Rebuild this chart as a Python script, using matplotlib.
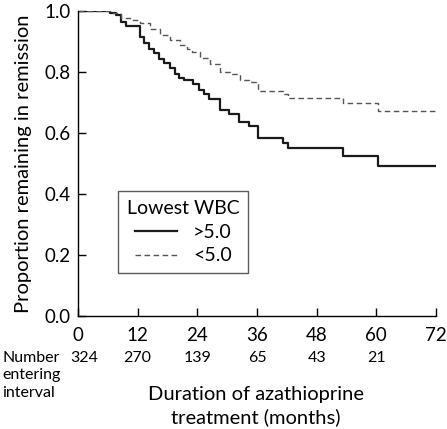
import matplotlib
matplotlib.use("Agg")
import matplotlib.pyplot as plt

plt.rcParams['font.family'] = ['Lato', 'DejaVu Sans']

# Kaplan-Meier steps (month of event, survival after event)
high_t = [0, 6.4, 7.6, 8.6, 9.6, 12.5, 13.3, 14.3, 15.3, 16.3, 17.3, 18.5, 19.5,
          20.3, 21.3, 23.1, 24.3, 25.3, 26.4, 28.5, 30.3, 32.4, 34.3, 36.2,
          41.3, 42.3, 53.3, 60.3, 72]
high_s = [1.0, 0.993, 0.987, 0.965, 0.951, 0.915, 0.896, 0.874, 0.862, 0.842,
          0.829, 0.812, 0.793, 0.779, 0.774, 0.761, 0.741, 0.728, 0.711, 0.675,
          0.662, 0.637, 0.623, 0.585, 0.568, 0.552, 0.526, 0.492, 0.492]

low_t = [0, 6.5, 8.6, 10.5, 12.5, 14.5, 16.5, 18.5, 20.5, 22.0, 23.0, 24.5, 26.5,
         28.6, 30.6, 32.6, 34.3, 36.2, 41.3, 42.3, 53.3, 60.3, 72]
low_s = [1.0, 0.995, 0.978, 0.972, 0.962, 0.940, 0.921, 0.905, 0.889, 0.875,
         0.866, 0.846, 0.826, 0.799, 0.792, 0.774, 0.766, 0.738, 0.727, 0.714,
         0.697, 0.672, 0.672]

x_ticks = [0, 12, 24, 36, 48, 60, 72]
y_ticks = [0.0, 0.2, 0.4, 0.6, 0.8, 1.0]
at_risk_t = [1.3, 12, 24, 36, 48, 60]
at_risk_n = ["324", "270", "139", "65", "43", "21"]

fig = plt.figure(figsize=(4.47, 4.29), dpi=100)
ax = fig.add_axes([78/447, 1-316/429, (436-78)/447, (316-11)/429])

ax.step(high_t, high_s, where='post', color='#1a1a1a', lw=1.6, label='>5.0')
ax.step(low_t, low_s, where='post', color='#555555', lw=1.0,
        linestyle=(0, (4, 2.5)), label='<5.0')

ax.set_xlim(0, 72)
ax.set_ylim(0, 1.0)
ax.set_xticks(x_ticks)
ax.set_yticks(y_ticks)
ax.set_yticklabels([f"{v:.1f}" for v in y_ticks])
for s in ['top', 'right']:
    ax.spines[s].set_visible(False)
for s in ['left', 'bottom']:
    ax.spines[s].set_linewidth(1.0)
ax.tick_params(direction='in', length=6, width=1, labelsize=13.5, pad=5)
ax.tick_params(axis='x', pad=8)

ax.set_ylabel("Proportion remaining in remission", fontsize=14.5, labelpad=9)

leg = ax.legend(title="Lowest WBC", loc='upper left', bbox_to_anchor=(0.112, 0.41),
                borderaxespad=0, fontsize=14, title_fontsize=14, frameon=True,
                fancybox=False, edgecolor='#333333', handlelength=2.2,
                borderpad=0.45, labelspacing=0.35, handletextpad=0.8)
leg.get_frame().set_linewidth(1.0)

# Number entering interval
for t, n in zip(at_risk_t, at_risk_n):
    ax.text(t, -(358-316)/305, n, transform=ax.get_xaxis_transform(), ha='center',
            va='center', fontsize=11.5, clip_on=False)
fig.text(2/447, 1-351/429, "Number\nentering\ninterval", ha='left', va='top',
         fontsize=11.5, linespacing=1.3)
fig.text(256/447, 1-406/429, "Duration of azathioprine\ntreatment (months)",
         ha='center', va='center', fontsize=14.5, linespacing=1.35)

fig.savefig("out.png", dpi=100)
